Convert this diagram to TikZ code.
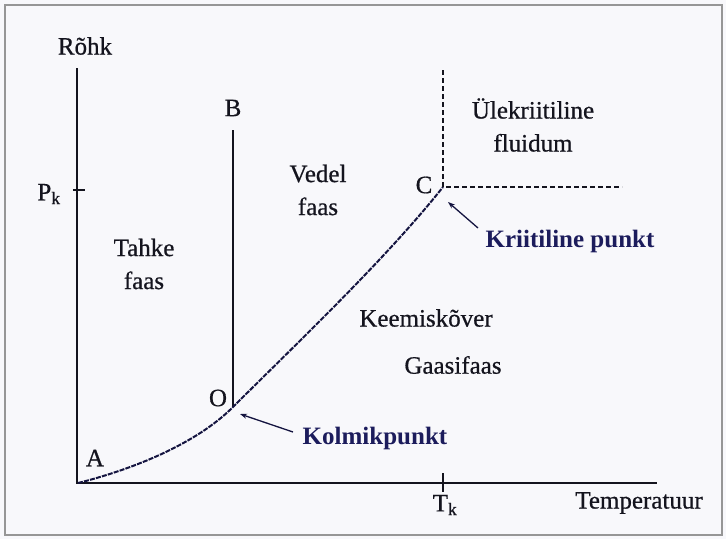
\documentclass[tikz,border=0pt]{standalone}
\usepackage{fontspec}
\setmainfont{Liberation Serif}
\newfontfamily\heavyserif{Liberation Serif}[FakeBold=0.6]
\usetikzlibrary{arrows.meta}
\definecolor{navy}{RGB}{28,28,92}
\definecolor{ink}{RGB}{20,20,30}
\definecolor{framegray}{RGB}{150,150,150}
\definecolor{bg}{RGB}{248,248,251}
\begin{document}
\begin{tikzpicture}[x=1pt,y=-1pt,
  lbl/.style={font=\heavyserif\fontsize{25}{33}\selectfont, text=ink, inner sep=0pt, align=center},
  blbl/.style={font=\fontsize{25}{33}\selectfont\bfseries, text=navy, inner sep=0pt},
  axis/.style={line width=2.6pt, draw=ink, line join=miter},
  tick/.style={line width=1.8pt, draw=ink},
  phase/.style={line width=2pt, draw=ink},
  curveline/.style={line width=2pt, draw=navy!70!black, dash pattern=on 5pt off 1.2pt},
  dashline/.style={line width=2pt, draw=ink, dash pattern=on 5pt off 3pt},
  arr/.style={line width=1.3pt, draw=navy!70!black, -{Stealth[length=7pt,width=5pt]}}]
\useasboundingbox (0,0) rectangle (726,539);
\fill[bg] (0,0) rectangle (726,539);
\draw[framegray, line width=1.5pt] (5,5) rectangle (722,535);

\coordinate (A) at (78,483);
\coordinate (O) at (233,407);
\coordinate (C) at (443,187);
\coordinate (Btop) at (233,130);
\coordinate (Ytop) at (77,68);
\coordinate (Xend) at (657,483);
\coordinate (Ctop) at (443,70);
\coordinate (Cright) at (622,187);
\coordinate (Pk) at (77,190);
\coordinate (Tk) at (443,483);

\draw[axis] (Ytop) |- (Xend);
\draw[tick] ([xshift=-4pt]Pk) -- ([xshift=8pt]Pk);
\draw[tick] ([yshift=10pt]Tk) -- ([yshift=-9pt]Tk);
\draw[phase] (Btop) -- (O);
\draw[curveline] (A) .. controls (130,470) and (195,445) .. (O) .. controls (295,345) and (385,260) .. (C);
\draw[dashline] (Ctop) -- (C) -- (Cright);

\node[lbl] (rohk) at (85,46) {Rõhk};
\node[lbl] (Blbl) at (233,108) {B};
\node[lbl] (pklbl) at (49,194) {P\textsubscript{k}};
\node[lbl] (tahke) at (144,264) {Tahke\\faas};
\node[lbl] (vedel) at (318,190) {Vedel\\faas};
\node[lbl] (ulek) at (533,125) {Ülekriitiline\\fluidum};
\node[lbl] (Clbl) at (424,185) {C};
\node[blbl] (kp) at (570,241) {Kriitiline punkt};
\node[lbl] (keem) at (426,318) {Keemiskõver};
\node[lbl] (gaas) at (453,365) {Gaasifaas};
\node[lbl] (Olbl) at (218,398) {O};
\node[blbl] (km) at (375,438) {Kolmikpunkt};
\node[lbl] (Albl) at (95,458) {A};
\node[lbl] (tklbl) at (445,505) {T\textsubscript{k}};
\node[lbl] (temp) at (639,503) {Temperatuur};

\coordinate (kps) at (478,228);
\coordinate (kpe) at (448,202);
\coordinate (kms) at (293,432);
\coordinate (kme) at (240,414);
\draw[arr] (kps) -- (kpe);
\draw[arr] (kms) -- (kme);
\end{tikzpicture}
\end{document}
